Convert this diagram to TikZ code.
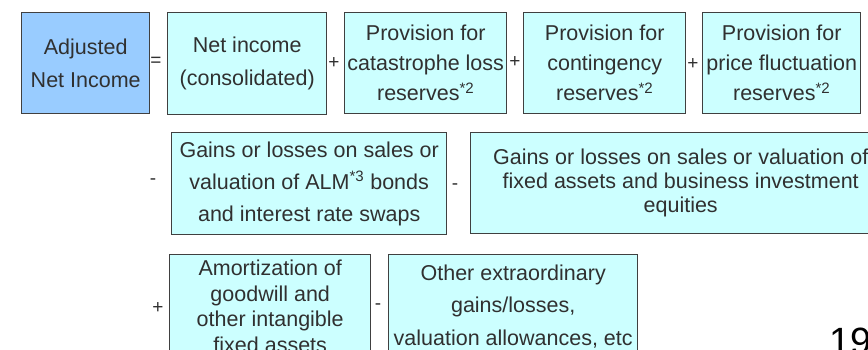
\documentclass[tikz,border=0pt]{standalone}
\usepackage{fontspec}
\setmainfont{Liberation Sans}
\definecolor{boxline}{HTML}{404040}
\definecolor{txt}{HTML}{303030}
\definecolor{cyanfill}{HTML}{CCFFFF}
\definecolor{bluefill}{HTML}{99CCFF}
\begin{document}
\begin{tikzpicture}[x=1pt,y=-1pt,
  termbox/.style={draw=boxline, line width=1.4pt, fill=cyanfill, inner sep=0pt,
    align=center, text=txt, anchor=north west},
  opsign/.style={text=txt, inner sep=0pt, font=\fontsize{19}{19}\selectfont},
  sp/.style={font=\fontsize{21.5}{#1}\selectfont}]
\useasboundingbox (0,0) rectangle (868,350);
\clip (0,0) rectangle (868,350);
% Row 1
\node[termbox, fill=bluefill, sp=33, minimum width=128pt, minimum height=101pt] (adj) at (21,12) {Adjusted\\Net Income};
\node[termbox, sp=33, minimum width=159pt, minimum height=102pt] (net) at (167,12) {Net income\\(consolidated)};
\node[termbox, sp=30, minimum width=162pt, minimum height=101pt] (cat) at (344,12) {Provision for\\catastrophe loss\\reserves\textsuperscript{*2}};
\node[termbox, sp=30, minimum width=162pt, minimum height=101pt] (con) at (523,12) {Provision for\\contingency\\reserves\textsuperscript{*2}};
\node[termbox, sp=30, minimum width=158pt, minimum height=101pt] (pri) at (702,12) {Provision for\\price fluctuation\\reserves\textsuperscript{*2}};
\node[opsign] (eq) at (156,62) {=};
\node[opsign] (p1) at (334,63) {+};
\node[opsign] (p2) at (515,62) {+};
\node[opsign] (p3) at (693,64) {+};
% Row 2
\node[termbox, sp=32, minimum width=275pt, minimum height=102pt] (alm) at (171,132) {Gains or losses on sales or\\valuation of ALM\textsuperscript{*3} bonds\\and interest rate swaps};
\node[termbox, sp=24, minimum width=420pt, minimum height=101pt] (fix) at (470,132) {Gains or losses on sales or valuation of\\fixed assets and business investment\\equities};
\node[opsign] (m1) at (153,182) {-};
\node[opsign] (m2) at (455,187) {-};
% Row 3
\node[termbox, sp=25.5, minimum width=201pt, minimum height=103pt] (amo) at (169,254) {Amortization of\\goodwill and\\other intangible\\fixed assets};
\node[termbox, sp=32.5, minimum width=249pt, minimum height=103pt] (oth) at (388,254) {Other extraordinary\\gains/losses,\\valuation allowances, etc};
\node[opsign] (p4) at (158,308) {+};
\node[opsign] (m3) at (378,307) {-};
% page number
\node[anchor=base west, inner sep=0pt, font=\fontsize{38}{38}\selectfont] (pg) at (829,354) {19};
\end{tikzpicture}
\end{document}
